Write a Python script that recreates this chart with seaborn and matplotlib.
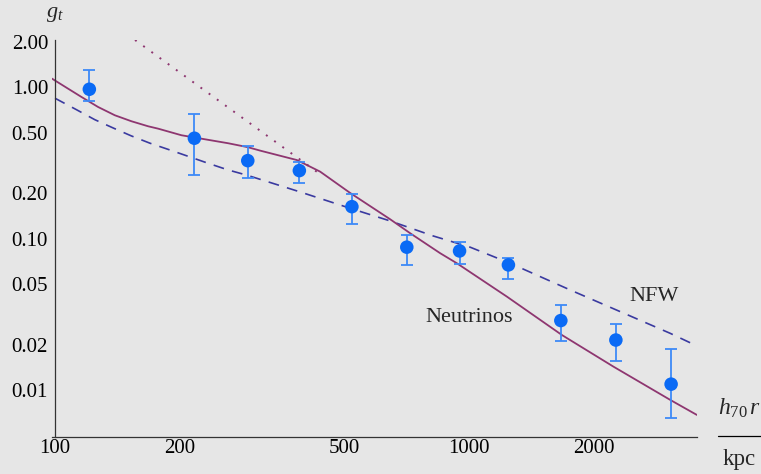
import matplotlib
matplotlib.use("Agg")
import matplotlib.pyplot as plt
from matplotlib.lines import Line2D
import seaborn as sns
import pandas as pd
import numpy as np

# measured shear points (r in kpc, g_t and error-bar ends)
r_obs = [121, 217, 292, 389, 521, 707, 948, 1244, 1665, 2261, 3074]
g_obs = [0.970, 0.461, 0.328, 0.282, 0.163, 0.0881, 0.0832, 0.0673, 0.0289, 0.0215, 0.0110]
g_hi = [1.306, 0.667, 0.412, 0.320, 0.198, 0.1066, 0.0954, 0.0748, 0.0368, 0.0275, 0.0188]
g_lo = [0.816, 0.264, 0.253, 0.233, 0.125, 0.0676, 0.0680, 0.0541, 0.0213, 0.0157, 0.00655]

# neutrino model curve
r_nu = [98.3, 107.5, 115.8, 127.0, 139.4, 152.9, 167.7, 177.4, 201.9, 229.9, 261.8,
        292.6, 312.7, 383.6, 436.7, 515.9, 644.6, 720.3, 851.1, 934.0, 1233, 1675,
        2231, 3059, 3548]
g_nu = [1.14, 0.979, 0.863, 0.7413, 0.6535, 0.5967, 0.553, 0.5331, 0.4824, 0.4539,
        0.4272, 0.4019, 0.382, 0.331, 0.2775, 0.2008, 0.1346, 0.1089, 0.0804, 0.0690,
        0.0416, 0.0232, 0.01435, 0.00866, 0.00689]

# NFW curve
r_nfw = [100, 112.6, 124.7, 138.1, 152.9, 169.6, 189.3, 210.8, 234.2, 261.8, 290.9,
         390.7, 515.9, 644.6, 818.5, 1005.5, 1256, 1754, 2316, 3059, 3548]
g_nfw = [0.846, 0.7115, 0.6113, 0.5389, 0.4773, 0.4272, 0.3858, 0.3484, 0.3151, 0.2847,
         0.2628, 0.2039, 0.1591, 0.1312, 0.1045, 0.0881, 0.069, 0.046, 0.0331, 0.0238,
         0.01966]

# dotted asymptote
r_dot = [156, 435]
g_dot = [2.05, 0.269]

ytick_vals = [0.01, 0.02, 0.05, 0.1, 0.2, 0.5, 1.0, 2.0]
ytick_labels = ["0.01", "0.02", "0.05", "0.10", "0.20", "0.50", "1.00", "2.00"]
xtick_vals = [100, 200, 500, 1000, 2000]
xtick_labels = ["100", "200", "500", "1000", "2000"]

obs = pd.DataFrame({"r": r_obs, "g": g_obs})
nu = pd.DataFrame({"r": r_nu, "g": g_nu})
nfw = pd.DataFrame({"r": r_nfw, "g": g_nfw})
dot = pd.DataFrame({"r": r_dot, "g": g_dot})

sns.set_theme(style="white")
bg = "#e6e6e6"
plt.rcParams["font.family"] = ["Liberation Serif", "DejaVu Serif"]
plt.rcParams["mathtext.fontset"] = "custom"
plt.rcParams["mathtext.rm"] = "Liberation Serif"
plt.rcParams["mathtext.it"] = "Liberation Serif:italic"

fig = plt.figure(figsize=(7.61, 4.74), dpi=100, facecolor=bg)
ax = fig.add_axes([0.0683, 0.0781, 0.8476, 0.8382], facecolor=bg)
ax.set_xscale("log")
ax.set_yscale("log")

purple = "#8e3670"
navy = "#3a3aa0"
blue = "#0a6af5"

sns.lineplot(data=dot, x="r", y="g", ax=ax, color=purple, lw=1.4,
             linestyle=(0, (1.0, 4.2)), sort=False, estimator=None)
sns.lineplot(data=nfw, x="r", y="g", ax=ax, color=navy, lw=1.2,
             linestyle=(0, (6.5, 5)), sort=False, estimator=None)
sns.lineplot(data=nu, x="r", y="g", ax=ax, color=purple, lw=1.3,
             sort=False, estimator=None)

yerr = [np.array(g_obs) - np.array(g_lo), np.array(g_hi) - np.array(g_obs)]
ax.errorbar(r_obs, g_obs, yerr=yerr, fmt="none", ecolor="#3d8af7",
            elinewidth=1.3, capsize=4.5, capthick=1.3)
sns.scatterplot(data=obs, x="r", y="g", ax=ax, color=blue, s=95,
                edgecolor="none", zorder=5)

ax.set_xlim(98.3, 3550)
ax.set_ylim(0.00493, 2.06)

for s in ["top", "right"]:
    ax.spines[s].set_visible(False)
ax.spines["left"].set_position(("data", 100))
for s in ["left", "bottom"]:
    ax.spines[s].set_color("#333333")
    ax.spines[s].set_linewidth(0.9)

ax.set_yticks(ytick_vals, labels=ytick_labels)
ax.set_yticks([k * 0.01 for k in range(3, 10)] + [k * 0.1 for k in range(3, 10)]
              + [1.5], minor=True)
ax.set_xticks(xtick_vals, labels=xtick_labels)
ax.set_xticks([300, 400, 600, 700, 800, 900, 3000], minor=True)
ax.yaxis.set_minor_formatter(matplotlib.ticker.NullFormatter())
ax.xaxis.set_minor_formatter(matplotlib.ticker.NullFormatter())
ax.tick_params(which="both", direction="in", colors="#333333", labelcolor="black",
               labelsize=15)
ax.tick_params(which="major", length=5, width=0.8)
ax.tick_params(which="minor", length=2.5, width=0.6)
ax.tick_params(axis="y", which="major", pad=5)
ax.tick_params(axis="x", which="major", pad=1.5)
ax.set_xlabel("")
ax.set_ylabel("")

ax.text(1000, 0.0305, "Neutrinos", fontsize=16, ha="center", va="center")
ax.text(2799, 0.0414, "NFW", fontsize=16, ha="center", va="center")

fig.text(55 / 761, 1 - 14 / 474, "$g_t$", fontsize=16, ha="center", va="center")
fig.text(740 / 761, 1 - 408 / 474, r"$h_{70}\,r$", fontsize=17, ha="center", va="center")
fig.text(739 / 761, 1 - 459 / 474, "kpc", fontsize=16.5, ha="center", va="center")
fig.add_artist(Line2D([718 / 761, 1.0], [1 - 436 / 474, 1 - 436 / 474],
                      color="black", lw=0.9, transform=fig.transFigure))

fig.savefig("out.png", dpi=100, facecolor=bg)
